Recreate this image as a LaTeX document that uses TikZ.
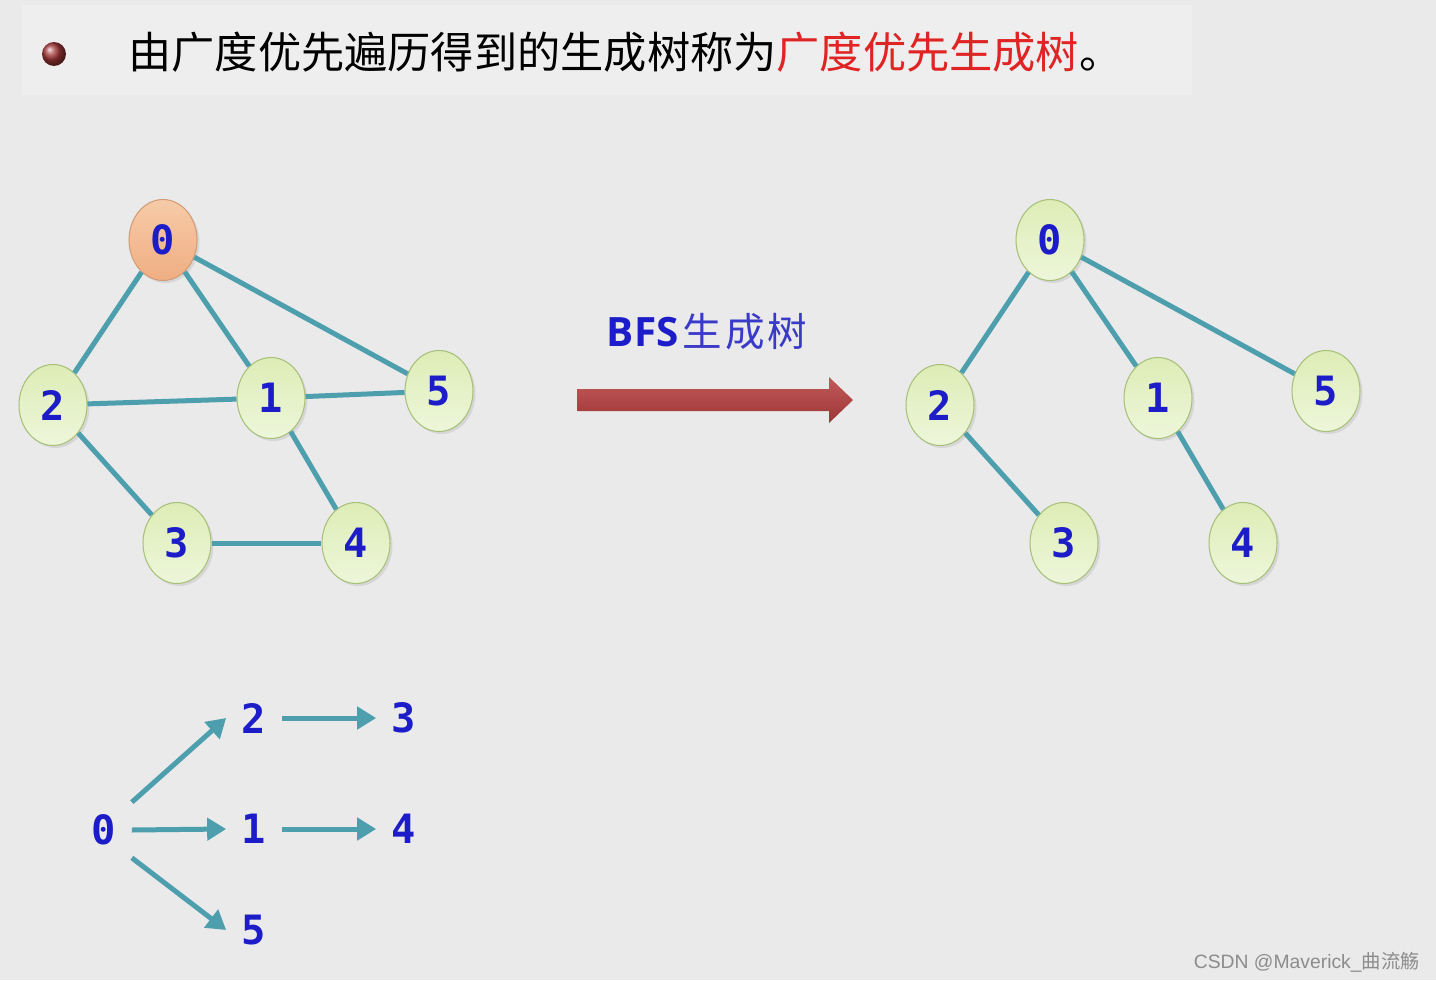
\documentclass[tikz,border=0pt]{standalone}
\usepackage{fontspec}
\newfontfamily\cjk{Noto Sans CJK SC}
\newfontfamily\digitfont{DejaVu Sans Mono}
\newfontfamily\labelfont{Open Sans}
\newfontfamily\wmfont{Liberation Sans}
\usetikzlibrary{arrows.meta,shapes.geometric,shadows}

\definecolor{bggray}{HTML}{EAEAEA}
\definecolor{bandgray}{HTML}{EEEEEE}
\definecolor{edgeteal}{HTML}{4E9FAE}
\definecolor{numblue}{HTML}{1C1CC8}
\definecolor{cjkblue}{HTML}{3A3AC8}
\definecolor{vgreen}{HTML}{DDEDB6}
\definecolor{vgreenlight}{HTML}{EEF6DA}
\definecolor{vgreenline}{HTML}{A8C07A}
\definecolor{vorange}{HTML}{F0AE82}
\definecolor{vorangelight}{HTML}{F6CBA8}
\definecolor{vorangeline}{HTML}{D39C78}
\definecolor{titlered}{HTML}{E02424}
\definecolor{arrowred}{HTML}{B83E3E}

\begin{document}
\begin{tikzpicture}[x=0.02cm,y=-0.02cm,>={Triangle[length=0.38cm,width=0.44cm]},
  vertex/.style={ellipse,minimum width=1.36cm,minimum height=1.62cm,inner sep=0pt,
    draw=vgreenline,line width=0.6pt,top color=vgreen,bottom color=vgreenlight,
    drop shadow={opacity=0.18,shadow xshift=0.05cm,shadow yshift=-0.05cm},
    text=numblue,font=\digitfont\bfseries\fontsize{23}{23}\selectfont},
  root/.style={vertex,draw=vorangeline,top color=vorangelight,bottom color=vorange},
  tedge/.style={every edge/.style={draw=edgeteal,line width=0.1cm}},
  listnum/.style={minimum width=1.1cm,minimum height=1.1cm,inner sep=0pt,
    text=numblue,font=\digitfont\bfseries\fontsize{23}{23}\selectfont},
  listarrow/.style={every edge/.style={draw=edgeteal,line width=0.1cm,->}}]

% background and title band
\fill[bggray] (0,0) rectangle (1436,980);
\useasboundingbox (0,0) rectangle (1436,980);
\fill[bandgray] (22,5) rectangle (1192,95);
\shade[ball color=arrowred!90!black] (54,54) circle (0.24cm);
\node[anchor=west,inner sep=0pt,font=\cjk\fontsize{24.6}{24.6}\selectfont] (title) at (128,52)
  {由广度优先遍历得到的生成树称为\textcolor{titlered}{广度优先生成树}。};

% original graph
\node[root] (G0) at (163,240) {0};
\node[vertex] (G2) at (53,405) {2};
\node[vertex] (G1) at (271,398) {1};
\node[vertex] (G5) at (439,391) {5};
\node[vertex] (G3) at (177,543) {3};
\node[vertex] (G4) at (356,543) {4};

\path[tedge]
(G0) edge (G2)
     edge (G1)
     edge (G5)
(G2) edge (G1)
     edge (G3)
(G1) edge (G5)
     edge (G4)
(G3) edge (G4);

% big arrow with label
\node[inner sep=0pt] (bfs) at (707,332)
  {\textcolor{numblue}{\labelfont\bfseries\fontsize{23}{23}\selectfont BFS}\hspace{0.08cm}\textcolor{cjkblue}{\cjk\fontsize{22.5}{22.5}\selectfont 生\hspace{0.06cm}成\hspace{0.06cm}树}};
\shade[top color=arrowred!85!white,bottom color=arrowred!85!black]
  (577,389) -- (829,389) -- (829,377) -- (853,400) -- (829,423) -- (829,411) -- (577,411) -- cycle;

% spanning tree
\node[vertex] (T0) at (1050,240) {0};
\node[vertex] (T2) at (940,405) {2};
\node[vertex] (T1) at (1158,398) {1};
\node[vertex] (T5) at (1326,391) {5};
\node[vertex] (T3) at (1064,543) {3};
\node[vertex] (T4) at (1243,543) {4};

\path[tedge]
(T0) edge (T2)
     edge (T1)
     edge (T5)
(T2) edge (T3)
(T1) edge (T4);

% visiting order
\node[listnum] (L0) at (104,830) {0};
\node[listnum] (L2) at (254,718) {2};
\node[listnum] (L3) at (404,718) {3};
\node[listnum] (L1) at (254,829) {1};
\node[listnum] (L4) at (404,829) {4};
\node[listnum] (L5) at (254,930) {5};

\path[listarrow]
(L0.north east) edge (L2.west)
(L0.east) edge (L1.west)
(L0.south east) edge (L5.west)
(L2.east) edge (L3.west)
(L1.east) edge (L4.west);

% watermark
\node[anchor=east,inner sep=0pt,text=black!45,font=\wmfont\fontsize{11}{11}\selectfont] (mark) at (1420,962)
  {CSDN @Maverick\_{\cjk 曲流觞}};
\end{tikzpicture}
\end{document}
